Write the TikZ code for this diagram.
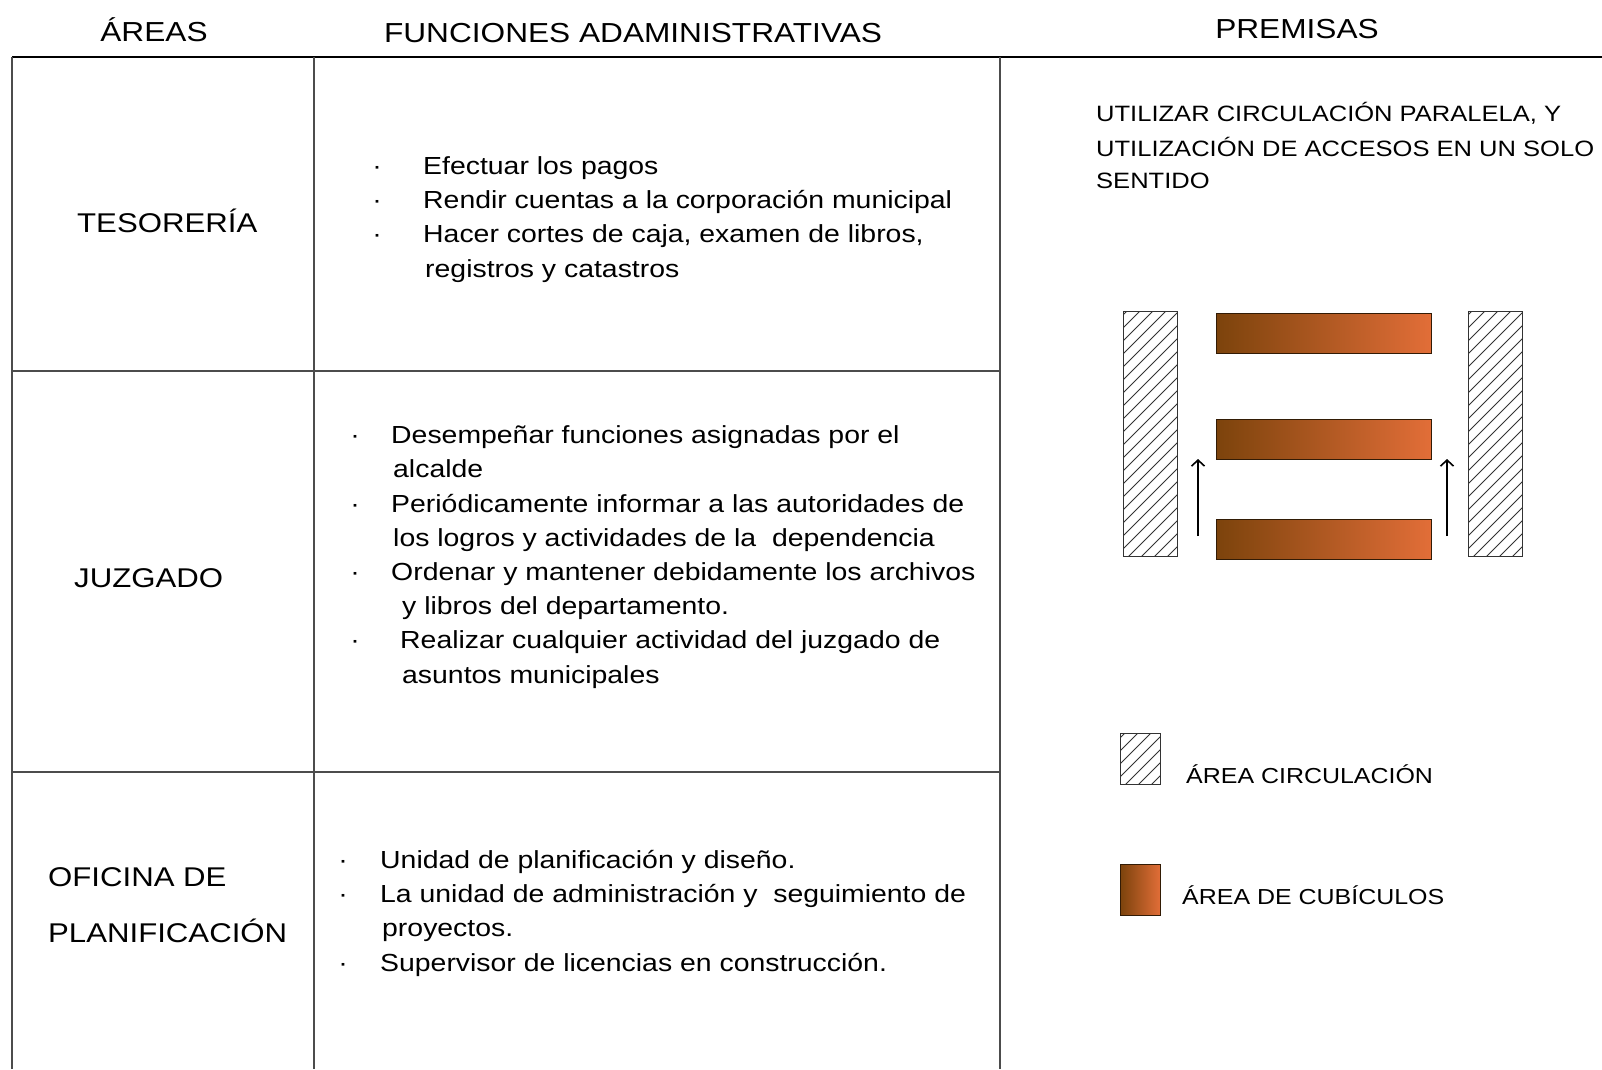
\documentclass[tikz,border=0pt]{standalone}
\usepackage{fontspec}
\setmainfont{Liberation Sans}[FakeStretch=1.15]
\usetikzlibrary{positioning,arrows.meta}
\definecolor{CubDark}{RGB}{124,67,12}
\definecolor{CubLight}{RGB}{226,110,56}

\begin{document}
\begin{tikzpicture}[x=1pt,y=-1pt,
    declare function={colA=12;colB=314;colC=1000;rowA=57;rowB=371;rowC=772;ybot=1069;},
    head/.style={font=\fontsize{27.5}{30}\selectfont,anchor=base,inner sep=0pt},
    area/.style={font=\fontsize{27.1}{30}\selectfont,anchor=base west,inner sep=0pt},
    txt/.style={font=\fontsize{24.7}{34}\selectfont,anchor=base west,inner sep=0pt},
    dot/.style={font=\fontsize{24.7}{34}\selectfont,anchor=base,inner sep=0pt},
    note/.style={font=\fontsize{22.2}{32}\selectfont,anchor=base west,inner sep=0pt},
    key/.style={font=\fontsize{21.7}{32}\selectfont,anchor=base west,inner sep=0pt},
    rule/.style={draw=black!70,line width=1.3pt},
    hatch/.style={draw=black!80,line width=1pt,fill=white,path picture={
        \foreach \k in {-320,-307,...,80}
          \draw[line width=0.8pt]
            ([xshift=\k pt]path picture bounding box.south west) -- ++(330pt,330pt);}},
    cubicle/.style={draw=black!60!CubDark,line width=1pt,left color=CubDark,right color=CubLight}]
    \useasboundingbox (0,0) rectangle (1602,1069);
    % table
    \draw[line width=1.6pt] (colA,rowA) -- (1602,rowA);
    \foreach \X in {colA,colB,colC}
       \draw[rule] (\X,rowA) -- (\X,ybot);
    \foreach \Y in {rowB,rowC}
       \draw[rule] (colA,\Y) -- (colC,\Y);
    % headings
    \node[head] (h-areas) at (154,41) {ÁREAS};
    \node[head] (h-func) at (633,42) {FUNCIONES ADAMINISTRATIVAS};
    \node[head] (h-prem) at (1297,38) {PREMISAS};
    % areas
    \node[area] (a-tes) at (77,232) {TESORERÍA};
    \node[area] (a-juz) at (74,587) {JUZGADO};
    \node[area] (a-ofi1) at (48,886) {OFICINA DE};
    \node[area] (a-ofi2) at (48,942) {PLANIFICACIÓN};
    % funciones
    \path foreach \X/\Y/\T [count=\N] in
       {423/174/Efectuar los pagos,
        423/208/Rendir cuentas a la corporación municipal,
        {423/242/Hacer cortes de caja, examen de libros,},
        425/277/registros y catastros}
       {(\X,\Y) node[txt] (tes-\N) {\T}}
       foreach \Y [count=\N] in {174,208,242}
       {(377,\Y) node[dot] (tes-dot-\N) {·}};
    \path foreach \X/\Y/\T [count=\N] in
       {391/443/Desempeñar funciones asignadas por el,
        393/477/alcalde,
        391/512/Periódicamente informar a las autoridades de,
        393/546/los logros y actividades de la\ \ dependencia,
        391/580/Ordenar y mantener debidamente los archivos,
        402/614/y libros del departamento.,
        400/648/Realizar cualquier actividad del juzgado de,
        402/683/asuntos municipales}
       {(\X,\Y) node[txt] (juz-\N) {\T}}
       foreach \Y [count=\N] in {443,512,580,648}
       {(355,\Y) node[dot] (juz-dot-\N) {·}};
    \path foreach \X/\Y/\T [count=\N] in
       {380/868/Unidad de planificación y diseño.,
        380/902/La unidad de administración y\ \ seguimiento de,
        382/936/proyectos.,
        380/971/Supervisor de licencias en construcción.}
       {(\X,\Y) node[txt] (ofi-\N) {\T}}
       foreach \Y [count=\N] in {868,902,971}
       {(343,\Y) node[dot] (ofi-dot-\N) {·}};
    % premisas
    \path foreach \Y/\T [count=\N] in
       {{121/UTILIZAR CIRCULACIÓN PARALELA, Y},
        156/UTILIZACIÓN DE ACCESOS EN UN SOLO,
        188/SENTIDO}
       {(1096,\Y) node[note] (prem-\N) {\T}};
    % planta
    \path (1123,311) node[hatch,anchor=north west,minimum width=54pt,minimum height=245pt,inner sep=0pt] (circ-l) {}
          (1468,311) node[hatch,anchor=north west,minimum width=54pt,minimum height=245pt,inner sep=0pt] (circ-r) {};
    \path foreach \Y [count=\N] in {313,419,519}
       {(1216,\Y) node[cubicle,anchor=north west,minimum width=215pt,minimum height=40pt,inner sep=0pt] (cub-\N) {}};
    \coordinate (arr-l1) at (1198,536);
    \coordinate (arr-l2) at (1198,459);
    \coordinate (arr-r1) at (1447,536);
    \coordinate (arr-r2) at (1447,459);
    \draw[line width=1.6pt,-{Straight Barb[length=6pt,width=13pt]}] (arr-l1) -- (arr-l2);
    \draw[line width=1.6pt,-{Straight Barb[length=6pt,width=13pt]}] (arr-r1) -- (arr-r2);
    % leyenda
    \node[hatch,anchor=north west,minimum width=40pt,minimum height=51pt,inner sep=0pt] (ley-circ) at (1120,733) {};
    \node[cubicle,anchor=north west,minimum width=40pt,minimum height=51pt,inner sep=0pt] (ley-cub) at (1120,864) {};
    \node[key] (ley-circ-t) at (1186,783) {ÁREA CIRCULACIÓN};
    \node[key] (ley-cub-t) at (1182,904) {ÁREA DE CUBÍCULOS};
\end{tikzpicture}
\end{document}
